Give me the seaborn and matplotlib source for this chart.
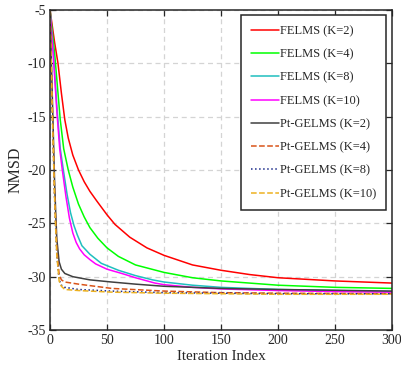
import pandas as pd
import seaborn as sns
import matplotlib.pyplot as plt

# Datos (iteracion, NMSD en dB)
x_felms_k2 = [0, 2, 4, 7, 10, 13, 16, 20, 25, 30, 35, 41, 50, 57, 70, 85, 100, 125, 150, 175, 200, 250, 300]
y_felms_k2 = [-5, -6.5, -8, -10, -12.8, -15.3, -17.0, -18.6, -20, -21.1, -22.0, -22.9, -24.2, -25.1, -26.3, -27.3, -28.0, -28.9, -29.4, -29.8, -30.1, -30.4, -30.6]

x_felms_k4 = [0, 4, 9, 12, 16, 20, 25, 30, 35, 42, 50, 60, 75, 100, 125, 150, 200, 250, 300]
y_felms_k4 = [-5, -9, -15.3, -18, -20, -21.6, -23.2, -24.4, -25.4, -26.4, -27.3, -28.1, -28.9, -29.6, -30.1, -30.4, -30.8, -31.0, -31.1]

x_felms_k8 = [0, 3, 6, 9, 11.7, 15, 18, 21, 24, 28, 35, 45, 60, 75, 90, 100, 125, 150, 200, 250, 300]
y_felms_k8 = [-5, -9, -14, -18, -20, -22.3, -24, -25.2, -26.1, -27.1, -27.9, -28.75, -29.4, -29.9, -30.3, -30.5, -30.8, -31.0, -31.2, -31.3, -31.4]

x_felms_k10 = [0, 3, 6, 8.5, 10.8, 14, 17, 20, 23, 26, 30, 35, 40, 50, 63, 75, 92, 100, 125, 150, 200, 250, 300]
y_felms_k10 = [-5, -9.5, -14.5, -18, -20, -22.5, -24.5, -25.9, -26.8, -27.4, -27.95, -28.4, -28.8, -29.3, -29.7, -30.1, -30.6, -30.75, -31.0, -31.15, -31.3, -31.4, -31.45]

x_pt_k2 = [0, 1, 2, 3, 4, 5, 6, 8, 10, 13, 20, 25, 35, 54, 75, 100, 150, 200, 300]
y_pt_k2 = [-5, -9, -13, -17, -21, -24, -26.5, -28.6, -29.3, -29.7, -30.0, -30.1, -30.3, -30.5, -30.7, -30.9, -31.1, -31.2, -31.35]

x_pt_k4 = [0, 1, 2, 3, 4, 5, 6, 8, 10, 13, 25, 54, 100, 150, 200, 300]
y_pt_k4 = [-5, -9.5, -14, -18, -22, -25, -27.5, -29.8, -30.3, -30.5, -30.7, -31.1, -31.35, -31.5, -31.55, -31.6]

x_pt_k8 = [0, 1, 2, 3, 4, 5, 6, 8, 10, 13, 25, 54, 100, 150, 200, 300]
y_pt_k8 = [-5, -10, -14.5, -18.5, -22.5, -25.5, -28, -30.3, -30.8, -31.0, -31.2, -31.35, -31.5, -31.55, -31.6, -31.6]

x_pt_k10 = [0, 1, 2, 3, 4, 5, 6, 8, 10, 13, 25, 54, 100, 150, 200, 300]
y_pt_k10 = [-5, -10, -14.5, -18.5, -22.5, -25.5, -28, -30.4, -30.9, -31.2, -31.3, -31.45, -31.55, -31.6, -31.65, -31.65]

series = [
    ('FELMS (K=2)', x_felms_k2, y_felms_k2, '#ff0000', '-'),
    ('FELMS (K=4)', x_felms_k4, y_felms_k4, '#00ff00', '-'),
    ('FELMS (K=8)', x_felms_k8, y_felms_k8, '#1fbfbf', '-'),
    ('FELMS (K=10)', x_felms_k10, y_felms_k10, '#ff00ff', '-'),
    ('Pt-GELMS (K=2)', x_pt_k2, y_pt_k2, '#404040', '-'),
    ('Pt-GELMS (K=4)', x_pt_k4, y_pt_k4, '#D95319', '--'),
    ('Pt-GELMS (K=8)', x_pt_k8, y_pt_k8, '#1a2a8a', ':'),
    ('Pt-GELMS (K=10)', x_pt_k10, y_pt_k10, '#EDB120', '--'),
]

sns.set_style('ticks')
plt.rcParams['font.family'] = ['Liberation Serif', 'DejaVu Serif']
plt.rcParams['axes.unicode_minus'] = False

fig = plt.figure(figsize=(4.01, 3.71), dpi=100)
ax = fig.add_axes([0.1247, 0.1105, 0.8529, 0.8625])

for name, xs, ys, color, ls in series:
    df = pd.DataFrame({'it': xs, 'nmsd': ys})
    sns.lineplot(data=df, x='it', y='nmsd', ax=ax, color=color, linestyle=ls,
                 linewidth=1.1, label=name)

ax.set_xlim(0, 300)
ax.set_ylim(-35, -5)
ax.set_xticks([0, 50, 100, 150, 200, 250, 300])
ax.set_yticks([-35, -30, -25, -20, -15, -10, -5])
ax.grid(True, linestyle=(0, (4, 3)), color='#d4d4d4', linewidth=0.9)
ax.tick_params(direction='in', top=True, right=True, length=4, width=0.9,
               labelsize=10, colors='#262626', pad=3)
for s in ax.spines.values():
    s.set_linewidth(1.1)
    s.set_color('#262626')
ax.set_xlabel('Iteration Index', fontsize=10.8, labelpad=2)
ax.set_ylabel('NMSD', fontsize=11.5, labelpad=3)

leg = ax.legend(loc='upper right', fontsize=9, frameon=True, fancybox=False,
                handlelength=2.2, handletextpad=0.05, labelspacing=0.9,
                borderpad=0.8, borderaxespad=0, bbox_to_anchor=(0.982, 0.984))
leg.get_frame().set_edgecolor('#262626')
leg.get_frame().set_linewidth(1.1)
leg.get_frame().set_alpha(1)

fig.savefig('out.png', dpi=100)
